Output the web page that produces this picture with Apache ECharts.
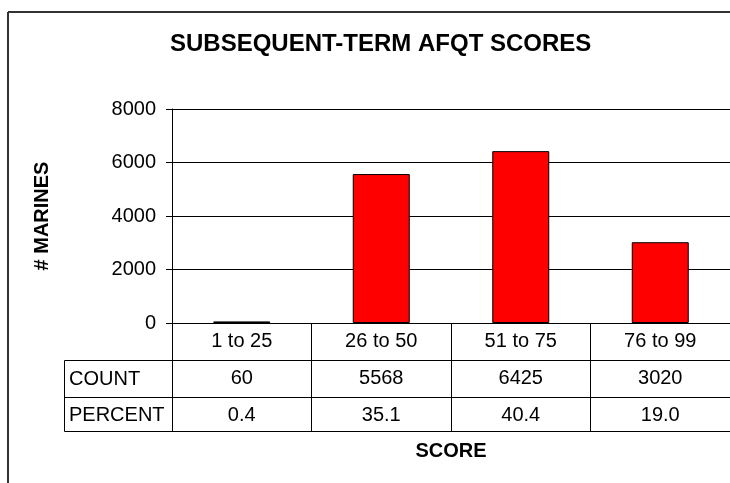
<!DOCTYPE html>
<html>
<head>
<meta charset="utf-8">
<script src="https://cdn.jsdelivr.net/npm/echarts@6/dist/echarts.min.js"></script>
<style>
html,body{margin:0;padding:0;background:#fff;overflow:hidden;}
#chart{width:730px;height:483px;}
</style>
</head>
<body>
<div id="chart"></div>
<script>
const categories = ['1 to 25', '26 to 50', '51 to 75', '76 to 99'];
const counts = [60, 5568, 6425, 3020];
const percents = ['0.4', '35.1', '40.4', '19.0'];
const rowLabels = ['COUNT', 'PERCENT'];
const yTicks = [0, 2000, 4000, 6000, 8000];
const titleText = 'SUBSEQUENT-TERM AFQT SCORES';
const yName = '# MARINES';
const xName = 'SCORE';

const FONT = 'Liberation Sans, Arial, sans-serif';
const chart = echarts.init(document.getElementById('chart'), null, {renderer: 'canvas'});

function tableAxis(data, offset, showLabel, extra) {
  return Object.assign({
    type: 'category',
    data: data,
    position: 'bottom',
    gridIndex: 0,
    offset: offset,
    boundaryGap: true,
    axisLine: {show: true, lineStyle: {color: '#000', width: 1}},
    axisTick: {show: false},
    axisLabel: {show: showLabel, color: '#000', fontSize: 20, fontFamily: FONT, margin: 8},
    splitLine: {show: false}
  }, extra || {});
}

const option = {
  backgroundColor: '#fff',
  animation: false,
  title: {
    text: titleText,
    left: 165,
    top: 27,
    textStyle: {fontSize: 24, fontWeight: 'bold', color: '#000', fontFamily: FONT}
  },
  grid: {left: 172, right: -1, top: 109, bottom: 160, containLabel: false},
  xAxis: [
    {
      type: 'category',
      data: categories,
      position: 'bottom',
      boundaryGap: true,
      axisLine: {show: true, lineStyle: {color: '#000', width: 1}},
      axisTick: {show: true, length: 108, lineStyle: {color: '#000', width: 1}},
      axisLabel: {color: '#000', fontSize: 20, fontFamily: FONT, margin: 8},
      splitLine: {show: false}
    },
    tableAxis(counts.map(String), 37, true),
    tableAxis(percents, 74, true),
    tableAxis(categories.map(() => ''), 108, false, {
      name: xName,
      nameLocation: 'middle',
      nameGap: 10,
      nameTextStyle: {fontSize: 20, fontWeight: 'bold', color: '#000', fontFamily: FONT, verticalAlign: 'top'}
    })
  ],
  yAxis: {
    type: 'value',
    min: yTicks[0],
    max: yTicks[yTicks.length - 1],
    interval: yTicks[1] - yTicks[0],
    name: yName,
    nameLocation: 'middle',
    nameRotate: 90,
    nameGap: 120,
    nameTextStyle: {fontSize: 20, fontWeight: 'bold', color: '#000', fontFamily: FONT},
    axisLine: {show: true, lineStyle: {color: '#000', width: 1}},
    axisTick: {show: true, length: 6, lineStyle: {color: '#000'}},
    axisLabel: {color: '#000', fontSize: 20, fontFamily: FONT, margin: 16, formatter: v => String(v)},
    splitLine: {show: true, lineStyle: {color: '#000', width: 1}}
  },
  series: [{
    type: 'bar',
    xAxisIndex: 0,
    data: counts,
    barWidth: 57,
    itemStyle: {color: '#ff0000', borderColor: '#000', borderWidth: 1}
  }],
  graphic: [
    {type: 'line', shape: {x1: 8, y1: 12, x2: 740, y2: 12}, style: {stroke: '#333', lineWidth: 2}, silent: true},
    {type: 'line', shape: {x1: 8, y1: 12, x2: 8, y2: 490}, style: {stroke: '#333', lineWidth: 2}, silent: true},
    {type: 'rect', shape: {x: 64.5, y: 360.5, width: 108, height: 71}, style: {fill: null, stroke: '#000', lineWidth: 1}, silent: true},
    {type: 'line', shape: {x1: 64.5, y1: 397.5, x2: 172.5, y2: 397.5}, style: {stroke: '#000', lineWidth: 1}, silent: true},
    {type: 'text', left: 69, top: 369, style: {text: rowLabels[0], fontSize: 20, fontFamily: FONT, fill: '#000'}},
    {type: 'text', left: 69, top: 405, style: {text: rowLabels[1], fontSize: 20, fontFamily: FONT, fill: '#000'}}
  ]
};
chart.setOption(option);
</script>
</body>
</html>
